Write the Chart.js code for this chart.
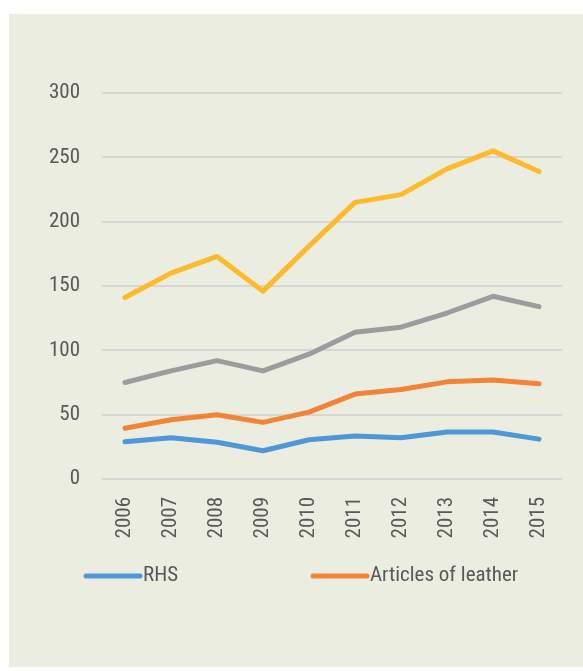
<!DOCTYPE html>
<html>
<head>
<meta charset="utf-8">
<script src="https://cdn.jsdelivr.net/npm/chart.js@4/dist/chart.umd.min.js"></script>
<style>
  html, body { margin: 0; padding: 0; background: #fff; }
  .panel { position: absolute; left: 9px; top: 14px; width: 574px; height: 653px; background: #EBEDE1; }
  canvas { display: block; }
</style>
</head>
<body>
<div class="panel"><canvas id="myChart" width="574" height="653"></canvas></div>
<script>
const years = ['2006', '2007', '2008', '2009', '2010', '2011', '2012', '2013', '2014', '2015'];
const rhs = [29, 32, 28.5, 22, 30.5, 33.5, 32, 36.5, 36.5, 31];
const leatherArticles = [39.5, 46, 50, 44, 52, 66, 69.5, 75.5, 77, 74];
const seriesGray = [75, 84, 92, 84, 97, 114, 118, 129, 142, 134];
const seriesYellow = [141, 160, 173, 146, 181, 215, 221, 241, 255, 239];
const yTicks = [0, 50, 100, 150, 200, 250, 300];

const fontFamily = "'Liberation Sans Narrow', 'Arial Narrow', 'Roboto Condensed', Roboto, sans-serif";
const textColor = '#595959';

const line = (label, data, color) => ({
  label: label,
  data: data,
  borderColor: color,
  backgroundColor: color,
  borderWidth: 5,
  borderCapStyle: 'round',
  borderJoinStyle: 'round',
  pointRadius: 0,
  tension: 0,
  fill: false
});

// legend shows only the first two series, drawn by hand so the gap matches
const lineLegend = {
  id: 'lineLegend',
  afterDraw(chart) {
    const ctx = chart.ctx;
    const items = [
      { ds: chart.data.datasets[0], x: 77 },
      { ds: chart.data.datasets[1], x: 304 }
    ];
    const y = 562;
    ctx.save();
    ctx.font = '21px ' + fontFamily;
    ctx.textBaseline = 'middle';
    ctx.textAlign = 'left';
    items.forEach(item => {
      ctx.strokeStyle = item.ds.borderColor;
      ctx.lineWidth = 5;
      ctx.lineCap = 'round';
      ctx.beginPath();
      ctx.moveTo(item.x, y);
      ctx.lineTo(item.x + 54, y);
      ctx.stroke();
      ctx.fillStyle = textColor;
      ctx.fillText(item.ds.label, item.x + 57, y);
    });
    ctx.restore();
  }
};

const ctx = document.getElementById('myChart').getContext('2d');
const chart = new Chart(ctx, {
  type: 'line',
  data: {
    labels: years,
    datasets: [
      line('RHS', rhs, '#4F97D6'),
      line('Articles of leather', leatherArticles, '#F28337'),
      line('Footwear', seriesGray, '#9B9C9D'),
      line('Total', seriesYellow, '#FDBA2B')
    ]
  },
  options: {
    responsive: false,
    animation: false,
    layout: { padding: { left: 0, right: 21, top: 79, bottom: 98 } },
    plugins: {
      legend: { display: false },
      tooltip: { enabled: false }
    },
    scales: {
      x: {
        offset: true,
        grid: { display: false },
        border: { display: false },
        ticks: {
          color: textColor,
          font: { family: fontFamily, size: 21 },
          maxRotation: 90,
          minRotation: 90,
          padding: 10
        },
        afterFit: scale => { scale.height = 90; }
      },
      y: {
        min: 0,
        max: 300,
        afterBuildTicks: scale => { scale.ticks = yTicks.map(v => ({ value: v })); },
        grid: { color: '#D6D6D4', lineWidth: 2, drawTicks: false },
        border: { display: false },
        ticks: {
          color: textColor,
          font: { family: fontFamily, size: 21 },
          padding: 22
        },
        afterFit: scale => { scale.width = 93; }
      }
    }
  },
  plugins: [lineLegend]
});
</script>
</body>
</html>
